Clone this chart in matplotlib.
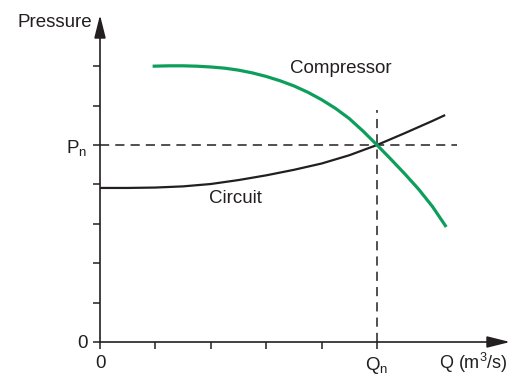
import matplotlib
matplotlib.use("Agg")
import matplotlib.pyplot as plt

plt.rcParams['font.family'] = ['Liberation Sans', 'DejaVu Sans']
plt.rcParams['mathtext.default'] = 'regular'

# curve points (flow and pressure in tick units)
circuit_q = [0.0, 0.5, 1.0, 1.5, 2.0, 2.5, 3.0, 3.5, 4.0, 4.5, 5.0, 5.5, 6.0, 6.23]
circuit_p = [3.91, 3.91, 3.92, 3.95, 4.01, 4.11, 4.23, 4.37, 4.53, 4.74, 5.0, 5.30, 5.61, 5.76]

comp_q = [0.95, 1.25, 1.5, 1.75, 2.0, 2.25, 2.5, 2.75, 3.0, 3.25, 3.5, 3.75, 4.0,
          4.25, 4.5, 4.75, 5.0, 5.25, 5.5, 5.75, 6.0, 6.25]
comp_p = [7.0, 7.01, 7.01, 7.0, 6.98, 6.95, 6.90, 6.83, 6.74, 6.63, 6.50, 6.34, 6.15,
          5.93, 5.67, 5.35, 5.0, 4.64, 4.27, 3.88, 3.44, 2.92]

q_n = 5.0
p_n = 5.0
y_ticks = [0, 1, 2, 3, 4, 5, 6, 7]
y_labels = ['0', '', '', '', '', 'P$_n$', '', '']
x_ticks = [0, 1, 2, 3, 4, 5]
x_labels = ['0', '', '', '', '', 'Q$_n$']

fig = plt.figure(figsize=(5.22, 3.74), dpi=100)
# origin at pixel (100, 342), arrow tips at x=510 / y=15
ax = fig.add_axes([100 / 522, 32 / 374, 410 / 522, 327 / 374])
ax.set_xlim(0, 410 / 55.4)
ax.set_ylim(0, 327 / 39.4)

for s in ax.spines.values():
    s.set_visible(False)

# axis arrows
arrow = dict(arrowstyle='-|>,head_length=1.4,head_width=0.35', color='#231f20',
             lw=1.2, shrinkA=0, shrinkB=0)
ax.annotate('', xy=(1, 0), xytext=(0, 0), xycoords='axes fraction', arrowprops=arrow)
ax.annotate('', xy=(0, 1), xytext=(0, 0), xycoords='axes fraction', arrowprops=arrow)

ax.set_xticks(x_ticks)
ax.set_xticklabels(x_labels)
ax.set_yticks(y_ticks)
ax.set_yticklabels(y_labels)
ax.tick_params(direction='out', length=5, width=1.1, color='#231f20',
               labelsize=13.5, labelcolor='#231f20', pad=4)

# reference lines
dash = dict(color='#231f20', lw=1.1, dashes=(6, 4))
ax.plot([0, 6.44], [p_n, p_n], **dash)
ax.plot([q_n, q_n], [0, 5.9], **dash)

ax.plot(circuit_q, circuit_p, color='#231f20', lw=1.6, solid_capstyle='butt')
ax.plot(comp_q, comp_p, color='#0e9e5c', lw=2.3, solid_capstyle='butt',
        solid_joinstyle='round')

ax.text(4.35, 6.95, 'Compressor', fontsize=13.5, color='#231f20', ha='center', va='center')
ax.text(2.44, 3.63, 'Circuit', fontsize=13.5, color='#231f20', ha='center', va='center')
ax.text(-0.14, 8.12, 'Pressure', fontsize=13.5, color='#231f20', ha='right', va='center',
        clip_on=False)
ax.text(7.36, -0.52, 'Q (m$^3$/s)', fontsize=13, color='#231f20', ha='right', va='center',
        clip_on=False)

fig.savefig('out.png', dpi=100)
